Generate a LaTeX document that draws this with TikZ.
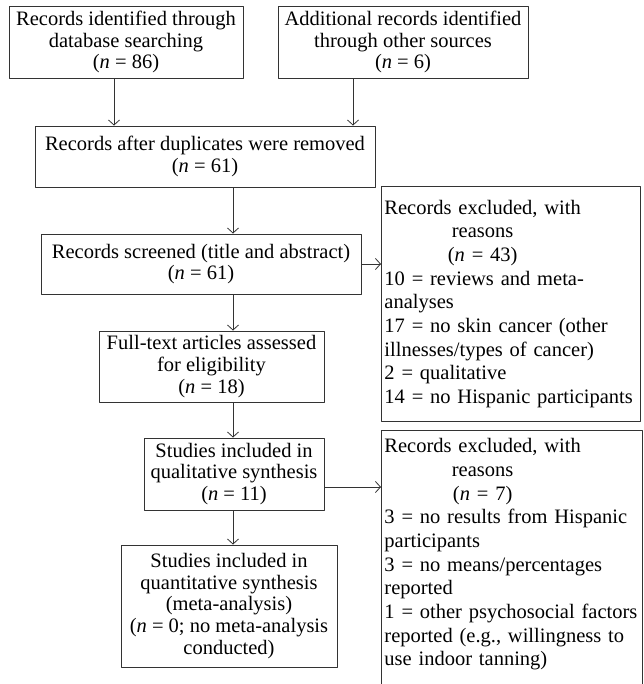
\documentclass[tikz,border=0pt]{standalone}
\usepackage{fontspec}
\setmainfont{Liberation Serif}
\usetikzlibrary{arrows.meta}
\hyphenpenalty=10000

% Centre a header line over "Records excluded, with"
\newlength\headwd
\newcommand{\reasonline}[1]{\settowidth{\headwd}{Records excluded, with}\makebox[\headwd][c]{#1}}

\begin{document}
\begin{tikzpicture}[x=1pt, y=-1pt, line cap=round, line join=round,
	>={Straight Barb[length=5pt,width=11pt]},
	box/.style={draw=black!80, line width=0.9pt, inner sep=3pt, align=center,
		font=\fontsize{20.5}{21.7}\selectfont},
	exbox/.style={box, anchor=north west, align=left, text width=253pt,
		font=\fontsize{20.5}{23.7}\selectfont},
	link/.style={->, line width=0.8pt, black!80}]
			
			% Page frame
			\useasboundingbox (0,0) rectangle (643,684);
			
			% Guide lines for the connectors
			\coordinate (leftin) at (114,0);
			\coordinate (rightin) at (353,0);
			\coordinate (spine) at (233,0);
			\coordinate (qualout) at (0,487);
			
			% Identification
			\node[box, minimum width=234pt, minimum height=72pt] (db) at (126,42)
				{Records identified through\\database searching\\(\textit{n} = 86)};
			\node[box, minimum width=250pt, minimum height=72pt] (other) at (403,42)
				{Additional records identified\\through other sources\\(\textit{n} = 6)};
			
			% Screening
			\node[box, minimum width=340pt, minimum height=61pt] (dup) at (205,156.5)
				{Records after duplicates were removed\\(\textit{n} = 61)};
			\node[box, minimum width=320pt, minimum height=60pt] (screen) at (201,264)
				{Records screened (title and abstract)\\(\textit{n} = 61)};
			\node[exbox, minimum height=235pt] (excl1) at (381,186)
				{Records excluded, with\\\reasonline{reasons}\\\reasonline{(\textit{n} = 43)}\\
				10 = reviews and meta-\\analyses\\17 = no skin cancer (other\\
				illnesses/types of cancer)\\2 = qualitative\\14 = no Hispanic participants};
			
			% Eligibility and inclusion
			\node[box, minimum width=225pt, minimum height=71pt] (full) at (211.5,366.5)
				{Full-text articles assessed\\for eligibility\\(\textit{n} = 18)};
			\node[box, minimum width=180pt, minimum height=72pt] (qual) at (234,474)
				{Studies included in\\qualitative synthesis\\(\textit{n} = 11)};
			\node[box, minimum width=216pt, minimum height=122pt] (quant) at (229,606)
				{Studies included in\\quantitative synthesis\\(meta-analysis)\\
				(\textit{n} = 0; no meta-analysis\\conducted)};
			\node[exbox, draw=none, text width=255pt, inner ysep=8pt] (excl2) at (381,430)
				{Records excluded, with\\\reasonline{reasons}\\\reasonline{(\textit{n} = 7)}\\
				3 = no results from Hispanic\\participants\\3 = no means/percentages\\
				reported\\1 = other psychosocial factors\\reported (e.g., willingness to\\
				use indoor tanning)};
			% open frame, runs off the bottom edge
			\draw[black!80, line width=0.9pt] ([yshift=-40pt]excl2.south west)
				|- (excl2.north east) -- ([yshift=-40pt]excl2.south east);
			
			% Connectors
			\draw[link] (db.south -| leftin) -- (dup.north -| leftin);
			\draw[link] (other.south -| rightin) -- (dup.north -| rightin);
			\foreach \a/\b in {dup/screen, screen/full, full/qual, qual/quant}
				\draw[link] (\a.south -| spine) -- (\b.north -| spine);
			\draw[link] (screen.east) -- (screen.east -| excl1.west);
			\draw[link] (qual.east |- qualout) -- (excl2.west |- qualout);
		\end{tikzpicture}
\end{document}
